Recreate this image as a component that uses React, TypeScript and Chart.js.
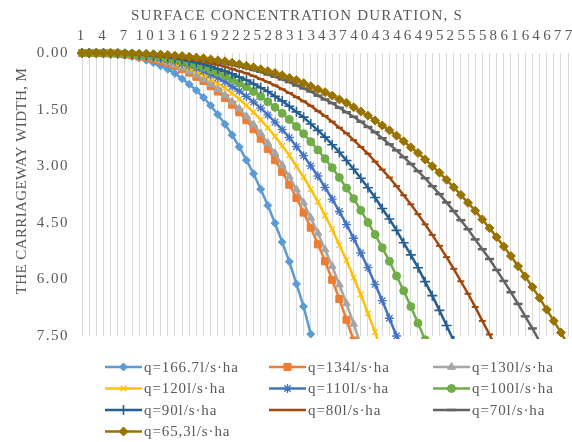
import React, { useEffect, useRef } from 'react';
import { Chart, registerables } from 'chart.js';
import { drawPoint } from 'chart.js/helpers';

Chart.register(...registerables);

const categories = [
  '1', '2', '3', '4', '5', '6', '7', '8', '9', '10', '11', '12', '13', '14', '15',
  '16', '17', '18', '19', '20', '21', '22', '23', '24', '25', '26', '27', '28', '29', '30',
  '31', '32', '33', '34', '35', '36', '37', '38', '39', '40', '41', '42', '43', '44', '45',
  '46', '47', '48', '49', '50', '51', '52', '53', '54', '55', '56', '57', '58', '59', '60',
  '61', '62', '63', '64', '65', '66', '67', '68', '69', '70', '71', '72', '73', '74', '75',
];

const yTicks = [0, 1.5, 3, 4.5, 6, 7.5];

const xTitle = 'SURFACE CONCENTRATION DURATION, S';
const yTitle = 'THE CARRIAGEWAY WIDTH, M';

const seriesLabels = [
  'q=166.7l/s·ha', 'q=134l/s·ha', 'q=130l/s·ha',
  'q=120l/s·ha', 'q=110l/s·ha', 'q=100l/s·ha',
  'q=90l/s·ha', 'q=80l/s·ha', 'q=70l/s·ha',
  'q=65,3l/s·ha',
];

const q166 = [0, 0, 0, 0.01, 0.02, 0.04, 0.06, 0.09, 0.13, 0.19, 0.26, 0.34, 0.43, 0.54, 0.68, 0.83, 0.99, 1.18, 1.39, 1.63, 1.89, 2.17, 2.49, 2.84, 3.20, 3.61, 4.04, 4.51, 5.01, 5.53, 6.12, 6.72, 7.45];
const q134 = [0, 0, 0, 0.01, 0.01, 0.02, 0.04, 0.06, 0.09, 0.12, 0.16, 0.21, 0.27, 0.34, 0.43, 0.52, 0.63, 0.74, 0.88, 1.02, 1.19, 1.37, 1.57, 1.78, 2.02, 2.27, 2.54, 2.84, 3.15, 3.49, 3.84, 4.23, 4.63, 5.07, 5.52, 6.01, 6.52, 7.07, 7.62];
const q130 = [0, 0, 0, 0.01, 0.01, 0.02, 0.04, 0.06, 0.08, 0.11, 0.15, 0.20, 0.26, 0.32, 0.40, 0.49, 0.59, 0.70, 0.83, 0.96, 1.12, 1.29, 1.48, 1.68, 1.90, 2.13, 2.39, 2.66, 2.97, 3.28, 3.62, 3.97, 4.37, 4.77, 5.21, 5.65, 6.14, 6.64, 7.18, 7.74];
const q120 = [0, 0, 0, 0, 0.01, 0.02, 0.03, 0.05, 0.07, 0.10, 0.13, 0.17, 0.21, 0.27, 0.33, 0.40, 0.49, 0.58, 0.68, 0.80, 0.93, 1.07, 1.22, 1.39, 1.57, 1.77, 1.98, 2.21, 2.46, 2.71, 3.00, 3.29, 3.61, 3.94, 4.31, 4.67, 5.09, 5.49, 5.95, 6.40, 6.90, 7.40, 7.94];
const q110 = [0, 0, 0, 0, 0.01, 0.02, 0.03, 0.04, 0.06, 0.08, 0.11, 0.14, 0.18, 0.22, 0.28, 0.33, 0.40, 0.48, 0.57, 0.66, 0.76, 0.89, 1.01, 1.15, 1.30, 1.46, 1.64, 1.83, 2.03, 2.24, 2.48, 2.72, 2.99, 3.26, 3.56, 3.87, 4.20, 4.55, 4.91, 5.30, 5.69, 6.13, 6.56, 7.03, 7.50, 8.01];
const q100 = [0, 0, 0, 0, 0.01, 0.01, 0.02, 0.03, 0.05, 0.06, 0.08, 0.11, 0.14, 0.18, 0.22, 0.26, 0.32, 0.38, 0.45, 0.52, 0.61, 0.70, 0.80, 0.90, 1.02, 1.15, 1.29, 1.44, 1.60, 1.76, 1.95, 2.14, 2.35, 2.57, 2.80, 3.04, 3.30, 3.58, 3.86, 4.17, 4.49, 4.81, 5.16, 5.52, 5.91, 6.30, 6.72, 7.16, 7.60];
const q90 = [0, 0, 0, 0, 0.01, 0.01, 0.02, 0.03, 0.04, 0.05, 0.07, 0.09, 0.11, 0.14, 0.17, 0.21, 0.25, 0.30, 0.35, 0.42, 0.48, 0.55, 0.64, 0.72, 0.82, 0.92, 1.02, 1.15, 1.27, 1.41, 1.56, 1.70, 1.88, 2.05, 2.23, 2.43, 2.63, 2.85, 3.08, 3.32, 3.57, 3.83, 4.12, 4.40, 4.70, 5.03, 5.35, 5.69, 6.06, 6.43, 6.82, 7.22, 7.63];
const q80 = [0, 0, 0, 0, 0, 0.01, 0.01, 0.02, 0.03, 0.04, 0.05, 0.07, 0.08, 0.11, 0.13, 0.16, 0.19, 0.22, 0.27, 0.31, 0.36, 0.42, 0.48, 0.54, 0.61, 0.69, 0.77, 0.86, 0.96, 1.06, 1.17, 1.28, 1.40, 1.54, 1.67, 1.82, 1.98, 2.13, 2.31, 2.49, 2.67, 2.88, 3.09, 3.30, 3.53, 3.77, 4.01, 4.27, 4.54, 4.82, 5.11, 5.41, 5.72, 6.05, 6.38, 6.73, 7.10, 7.46, 7.86];
const q70 = [0, 0, 0, 0, 0, 0.01, 0.01, 0.01, 0.02, 0.03, 0.04, 0.05, 0.06, 0.08, 0.10, 0.12, 0.14, 0.17, 0.20, 0.23, 0.27, 0.31, 0.35, 0.40, 0.45, 0.50, 0.57, 0.63, 0.70, 0.77, 0.86, 0.94, 1.02, 1.13, 1.23, 1.33, 1.45, 1.57, 1.69, 1.82, 1.96, 2.10, 2.26, 2.42, 2.58, 2.76, 2.94, 3.13, 3.32, 3.53, 3.74, 3.96, 4.19, 4.43, 4.67, 4.94, 5.20, 5.46, 5.75, 6.04, 6.34, 6.65, 6.98, 7.30, 7.64];
const q65 = [0, 0, 0, 0, 0, 0, 0.01, 0.01, 0.02, 0.02, 0.03, 0.04, 0.05, 0.07, 0.08, 0.10, 0.12, 0.14, 0.17, 0.20, 0.22, 0.26, 0.30, 0.34, 0.38, 0.43, 0.48, 0.53, 0.59, 0.66, 0.72, 0.80, 0.88, 0.96, 1.04, 1.13, 1.23, 1.32, 1.44, 1.55, 1.66, 1.79, 1.92, 2.05, 2.19, 2.34, 2.50, 2.65, 2.82, 3.00, 3.17, 3.36, 3.56, 3.76, 3.97, 4.18, 4.41, 4.64, 4.88, 5.13, 5.38, 5.65, 5.92, 6.20, 6.49, 6.80, 7.10, 7.41, 7.74];

const seriesData = [q166, q134, q130, q120, q110, q100, q90, q80, q70, q65];

// styles (kept separate from data)
const colors = ['#5B9BD5', '#ED7D31', '#A5A5A5', '#FFC000', '#4472C4', '#70AD47', '#255E91', '#9E480E', '#636363', '#997300'];
const pointStyles = ['rectRot', 'rect', 'triangle', 'crossRot', 'star', 'circle', 'cross', 'line', 'line', 'rectRot'];
const pointRadii = [4, 5, 4.5, 4, 4.5, 4, 5, 3.5, 4.5, 4.5];
const pointBorders = [1, 1, 1, 1.3, 1.3, 1, 1.6, 2, 2.5, 1];

const TEXT = '#595959';
const FONT_FAMILY = '"Liberation Serif", "Times New Roman", serif';

function withSpacing(spacing: string, dim: 'w' | 'h', size: number) {
  return (scale: any) => {
    if (dim === 'w') scale.width = size; else scale.height = size;
    if (!scale.$spaced) {
      const orig = scale.drawLabels;
      scale.drawLabels = function (area: any) {
        const c = this.ctx;
        c.save();
        c.letterSpacing = spacing;
        orig.call(this, area);
        c.restore();
      };
      scale.$spaced = true;
    }
  };
}

const overlay = {
  id: 'overlay',
  afterDraw(chart: any) {
    const ctx = chart.ctx;
    ctx.save();
    ctx.fillStyle = TEXT;
    ctx.font = `15px ${FONT_FAMILY}`;
    ctx.textBaseline = 'middle';
    // x axis title (top)
    ctx.textAlign = 'center';
    ctx.letterSpacing = '1.2px';
    ctx.fillText(xTitle, 297, 16);
    // y axis title
    ctx.letterSpacing = '0.4px';
    ctx.save();
    ctx.translate(22, 181);
    ctx.rotate(-Math.PI / 2);
    ctx.fillText(yTitle, 0, 0);
    ctx.restore();
    ctx.letterSpacing = '0px';
    // legend
    const colX = [105, 269, 433];
    chart.data.datasets.forEach((ds: any, i: number) => {
      const col = i % 3;
      const row = Math.floor(i / 3);
      const x0 = colX[col];
      const y = 367 + row * 21.5;
      ctx.strokeStyle = ds.borderColor;
      ctx.fillStyle = ds.borderColor;
      ctx.lineWidth = 2.5;
      ctx.beginPath();
      ctx.moveTo(x0, y);
      ctx.lineTo(x0 + 37, y);
      ctx.stroke();
      ctx.lineWidth = ds.pointBorderWidth;
      drawPoint(ctx, { pointStyle: ds.pointStyle, radius: ds.pointRadius, rotation: 0, borderWidth: ds.pointBorderWidth }, x0 + 18.5, y);
      ctx.fillStyle = TEXT;
      ctx.textAlign = 'left';
      ctx.letterSpacing = '0.9px';
      ctx.fillText(ds.label, x0 + 39, y + 1);
      ctx.letterSpacing = '0px';
    });
    ctx.restore();
  },
};

export default function App() {
  const ref = useRef<HTMLCanvasElement | null>(null);

  useEffect(() => {
    if (!ref.current) return;
    const datasets = seriesData.map((d, i) => ({
      label: seriesLabels[i],
      data: d,
      borderColor: colors[i],
      backgroundColor: colors[i],
      pointBackgroundColor: colors[i],
      pointBorderColor: colors[i],
      pointStyle: pointStyles[i],
      pointRadius: pointRadii[i],
      pointHoverRadius: pointRadii[i],
      pointBorderWidth: pointBorders[i],
      borderWidth: 2.5,
      tension: 0,
      order: 10 - i,
      clip: { left: 10, top: 10, right: 10, bottom: 3 },
    }));
    const chart = new Chart(ref.current, {
      type: 'line',
      data: { labels: categories, datasets },
      plugins: [overlay],
      options: {
        animation: false,
        responsive: false,
        events: [],
        layout: { padding: { left: 0, top: 0, right: 29, bottom: 106 } },
        plugins: { legend: { display: false }, tooltip: { enabled: false }, title: { display: false } },
        scales: {
          x: {
            type: 'category',
            position: 'top',
            offset: false,
            grid: { color: '#d9d9d9', lineWidth: 1, drawTicks: false },
            border: { display: false },
            ticks: {
              autoSkip: false,
              maxRotation: 0,
              minRotation: 0,
              padding: 8,
              color: TEXT,
              font: { family: FONT_FAMILY, size: 15 },
              callback: function (this: any, val: any, idx: number) {
                return idx % 3 === 0 ? this.getLabelForValue(val) : '';
              },
            },
            afterFit: withSpacing('3px', 'h', 53),
          },
          y: {
            reverse: true,
            min: yTicks[0],
            max: yTicks[yTicks.length - 1],
            afterBuildTicks: (scale: any) => {
              scale.ticks = yTicks.map((v) => ({ value: v }));
            },
            grid: { display: false, drawTicks: false },
            border: { display: false },
            ticks: {
              padding: 13,
              color: TEXT,
              font: { family: FONT_FAMILY, size: 15 },
              callback: (v: any) => Number(v).toFixed(2),
            },
            afterFit: withSpacing('1.5px', 'w', 82),
          },
        },
      },
    });
    return () => chart.destroy();
  }, []);

  return (
    <div style={{ position: 'fixed', left: 0, top: 0, width: 572, height: 442, overflow: 'hidden', background: '#fff' }}>
      <canvas ref={ref} width={640} height={442} style={{ display: 'block' }} />
    </div>
  );
}
